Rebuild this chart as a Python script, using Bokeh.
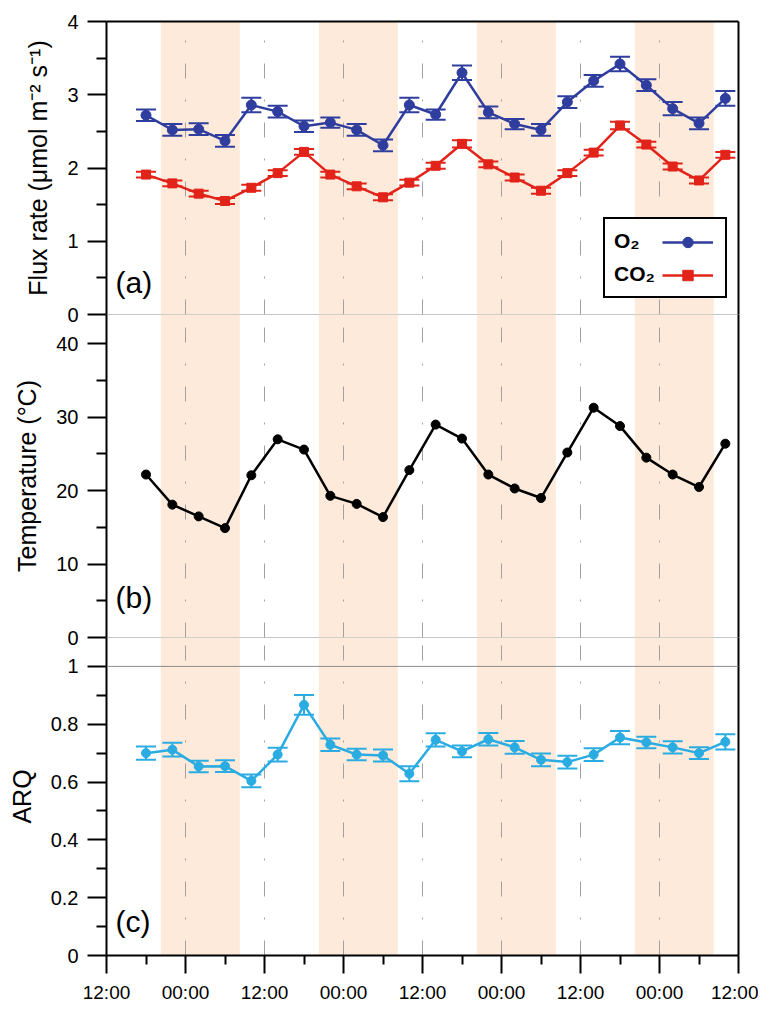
from bokeh.plotting import figure
from bokeh.models import (Range1d, FixedTicker, LinearAxis, Span, BoxAnnotation, Whisker,
                          TeeHead, ColumnDataSource, Legend, LegendItem, Label)
from bokeh.layouts import column
from bokeh.embed import file_html
from bokeh.resources import INLINE

# ---------------- data ----------------
hours = [6, 10, 14, 18, 22, 26, 30, 34, 38, 42, 46, 50, 54, 58, 62, 66, 70, 74, 78, 82, 86, 90, 94]
o2 = [2.72, 2.52, 2.53, 2.37, 2.86, 2.77, 2.57, 2.62, 2.52, 2.31, 2.86, 2.73, 3.30, 2.76, 2.60,
      2.52, 2.90, 3.19, 3.42, 3.13, 2.81, 2.61, 2.95]
o2_err = [0.08, 0.08, 0.08, 0.08, 0.10, 0.08, 0.08, 0.07, 0.08, 0.08, 0.10, 0.07, 0.10, 0.08,
          0.07, 0.08, 0.08, 0.08, 0.10, 0.08, 0.09, 0.08, 0.10]
co2 = [1.91, 1.79, 1.65, 1.55, 1.73, 1.93, 2.22, 1.91, 1.75, 1.60, 1.80, 2.03, 2.33, 2.05, 1.87,
       1.69, 1.93, 2.21, 2.58, 2.32, 2.02, 1.83, 2.18]
co2_err = [0.04, 0.04, 0.04, 0.04, 0.04, 0.04, 0.04, 0.04, 0.04, 0.04, 0.04, 0.04, 0.05, 0.04,
           0.04, 0.04, 0.04, 0.04, 0.05, 0.04, 0.04, 0.04, 0.04]
temp = [22.2, 18.1, 16.5, 14.9, 22.1, 27.0, 25.6, 19.3, 18.2, 16.4, 22.8, 29.0, 27.1, 22.2, 20.3,
        19.0, 25.2, 31.3, 28.8, 24.5, 22.2, 20.5, 26.4]
arq = [0.700, 0.712, 0.654, 0.655, 0.604, 0.695, 0.867, 0.729, 0.695, 0.692, 0.629, 0.746, 0.706,
       0.748, 0.720, 0.677, 0.669, 0.695, 0.754, 0.737, 0.720, 0.700, 0.739]
arq_err = [0.023, 0.024, 0.020, 0.020, 0.022, 0.024, 0.034, 0.022, 0.020, 0.021, 0.026, 0.023,
           0.020, 0.022, 0.022, 0.022, 0.022, 0.022, 0.023, 0.020, 0.021, 0.020, 0.026]
night_start = [8.25, 32.25, 56.25, 80.25]
night_end = [20.25, 44.25, 68.25, 92.25]
x_ticks = [0, 12, 24, 36, 48, 60, 72, 84, 96]
x_minor = [6, 18, 30, 42, 54, 66, 78, 90]
x_tick_labels = ["12:00", "00:00", "12:00", "00:00", "12:00", "00:00", "12:00", "00:00", "12:00"]
day_lines = [12, 24, 36, 48, 60, 72, 84]
series_names = ["O₂", "CO₂"]

# ---------------- style ----------------
FONT = "Liberation Sans"
BLUE = "#2F3E9E"
RED = "#E2231A"
CYAN = "#2AACE2"
BAND = "#FDEADA"
W = 758
LEFT = 106
RIGHT = 20
OVER = 12  # bottom border that the next panel overlaps

x_range = Range1d(0, 96)


def style_left_axis(p, ticks, minor, label, overrides=None):
    ax = p.yaxis[0]
    ax.ticker = FixedTicker(ticks=ticks, minor_ticks=minor)
    ax.axis_line_width = 2
    ax.axis_line_color = "black"
    ax.major_tick_line_width = 2
    ax.minor_tick_line_width = 2
    ax.major_tick_in = 0
    ax.major_tick_out = 19
    ax.minor_tick_in = 0
    ax.minor_tick_out = 10
    ax.major_label_text_font = FONT
    ax.major_label_text_font_size = "20px"
    ax.major_label_text_color = "black"
    ax.major_label_standoff = 9
    ax.axis_label = label
    ax.axis_label_text_font = FONT
    ax.axis_label_text_font_size = "25px"
    ax.axis_label_text_font_style = "normal"
    ax.axis_label_text_color = "black"
    ax.axis_label_standoff = 12
    if overrides:
        ax.major_label_overrides = overrides


def blank_axis(p, where):
    ax = LinearAxis(ticker=FixedTicker(ticks=[]), axis_line_width=2, axis_line_color="black",
                    major_tick_out=0, major_tick_in=0, minor_tick_out=0, minor_tick_in=0,
                    major_label_text_font_size="0px", major_label_standoff=0)
    p.add_layout(ax, where)


def make_fig(height, y_range, top, bottom, show_x, margin):
    p = figure(width=W, height=height, x_range=x_range, y_range=y_range,
               output_backend="svg", toolbar_location=None,
               min_border_left=LEFT, min_border_right=RIGHT,
               min_border_top=top, min_border_bottom=bottom,
               x_axis_location="below" if show_x else None, y_axis_location="left",
               margin=margin)
    p.outline_line_color = None
    p.border_fill_alpha = 0.0
    p.background_fill_alpha = 0.0
    p.ygrid.visible = False
    p.xgrid.ticker = FixedTicker(ticks=day_lines)
    p.xgrid.grid_line_color = "#a0a0a0"
    p.xgrid.grid_line_width = 1
    p.xgrid.grid_line_dash = "15 21 2 21"
    for s, e in zip(night_start, night_end):
        p.add_layout(BoxAnnotation(left=s, right=e, fill_color=BAND, fill_alpha=1.0,
                                   line_color=None, level="image"))
    blank_axis(p, "right")
    return p


def err_whisker(p, x, y, err, color):
    src = ColumnDataSource(dict(x=x, lo=[v - e for v, e in zip(y, err)],
                                up=[v + e for v, e in zip(y, err)]))
    wk = Whisker(base="x", upper="up", lower="lo", source=src, line_color=color, line_width=2,
                 upper_head=TeeHead(size=20, line_color=color, line_width=2),
                 lower_head=TeeHead(size=20, line_color=color, line_width=2))
    p.add_layout(wk)


def panel_label(p, text, y):
    p.add_layout(Label(x=9, y=y, x_units="screen", y_units="screen", text=text,
                       text_font=FONT, text_font_size="30px", text_color="black",
                       text_baseline="bottom"))


# ---------------- panel (a) ----------------
pa = make_fig(21 + 293 + OVER, Range1d(0, 4), 21, OVER, False, (0, 0, -OVER, 0))
blank_axis(pa, "above")
style_left_axis(pa, [0, 1, 2, 3, 4], [0.5, 1.5, 2.5, 3.5], "Flux rate (μmol m⁻² s⁻¹)")
pa.add_layout(Span(location=0, dimension="width", line_color="#8c8c8c", line_width=1))
err_whisker(pa, hours, o2, o2_err, BLUE)
err_whisker(pa, hours, co2, co2_err, RED)
l1 = pa.line(hours, o2, line_color=BLUE, line_width=2.5)
s1 = pa.scatter(hours, o2, marker="circle", size=10, fill_color=BLUE, line_color=BLUE)
l2 = pa.line(hours, co2, line_color=RED, line_width=2.5)
s2 = pa.scatter(hours, co2, marker="square", size=9, fill_color=RED, line_color=RED)

# legend: names on the left (framed box), line+marker samples on the right
common = dict(label_text_font=FONT, label_text_font_size="21px", label_text_font_style="bold",
              label_text_color="black", glyph_height=26, padding=9, spacing=7,
              label_height=20)
legend_text = Legend(items=[LegendItem(label=series_names[0], renderers=[]),
                            LegendItem(label=series_names[1], renderers=[])],
                     location=(497, 16), border_line_color="black", border_line_width=2,
                     border_line_alpha=1.0, background_fill_color="white",
                     background_fill_alpha=1.0, glyph_width=0, label_standoff=0,
                     label_width=102, **common)
legend_glyph = Legend(items=[LegendItem(label=" ", renderers=[l1, s1]),
                             LegendItem(label=" ", renderers=[l2, s2])],
                      location=(556, 26), border_line_color=None, background_fill_alpha=0.0,
                      glyph_width=51, label_standoff=0, label_width=0, **common)
pa.add_layout(legend_text)
pa.add_layout(legend_glyph)
panel_label(pa, "(a)", 16)

# ---------------- panel (b) ----------------
pb = make_fig(323 + OVER, Range1d(0, 44), 0, OVER, False, (0, 0, -OVER, 0))
style_left_axis(pb, [0, 10, 20, 30, 40], [5, 15, 25, 35], "Temperature (°C)")
pb.add_layout(Span(location=0, dimension="width", line_color="#8c8c8c", line_width=1))
pb.line(hours, temp, line_color="black", line_width=2.5)
pb.scatter(hours, temp, marker="circle", size=9, fill_color="black", line_color="black")
panel_label(pb, "(b)", 24)

# ---------------- panel (c) ----------------
pc = make_fig(323 + 45, Range1d(0, 1.1), 0, 45, True, (0, 0, 0, 0))
style_left_axis(pc, [0, 0.2, 0.4, 0.6, 0.8, 1.0], [0.1, 0.3, 0.5, 0.7, 0.9], "ARQ",
                overrides={0: "0", 0.2: "0.2", 0.4: "0.4", 0.6: "0.6", 0.8: "0.8", 1: "1"})
pc.add_layout(Span(location=1, dimension="width", line_color="#8c8c8c", line_width=1))
err_whisker(pc, hours, arq, arq_err, CYAN)
pc.line(hours, arq, line_color=CYAN, line_width=2.5)
pc.scatter(hours, arq, marker="circle", size=9, fill_color=CYAN, line_color=CYAN)
panel_label(pc, "(c)", 18)

xa = pc.xaxis[0]
xa.ticker = FixedTicker(ticks=x_ticks, minor_ticks=x_minor)
xa.major_label_overrides = {t: lab for t, lab in zip(x_ticks, x_tick_labels)}
xa.axis_line_width = 2
xa.axis_line_color = "black"
xa.major_tick_line_width = 2
xa.minor_tick_line_width = 2
xa.major_tick_in = 0
xa.major_tick_out = 18
xa.minor_tick_in = 0
xa.minor_tick_out = 9
xa.major_label_text_font = FONT
xa.major_label_text_font_size = "19px"
xa.major_label_text_color = "black"
xa.major_label_standoff = 8

layout = column(pa, pb, pc, spacing=0)
open("out.html", "w").write(file_html(layout, INLINE))
